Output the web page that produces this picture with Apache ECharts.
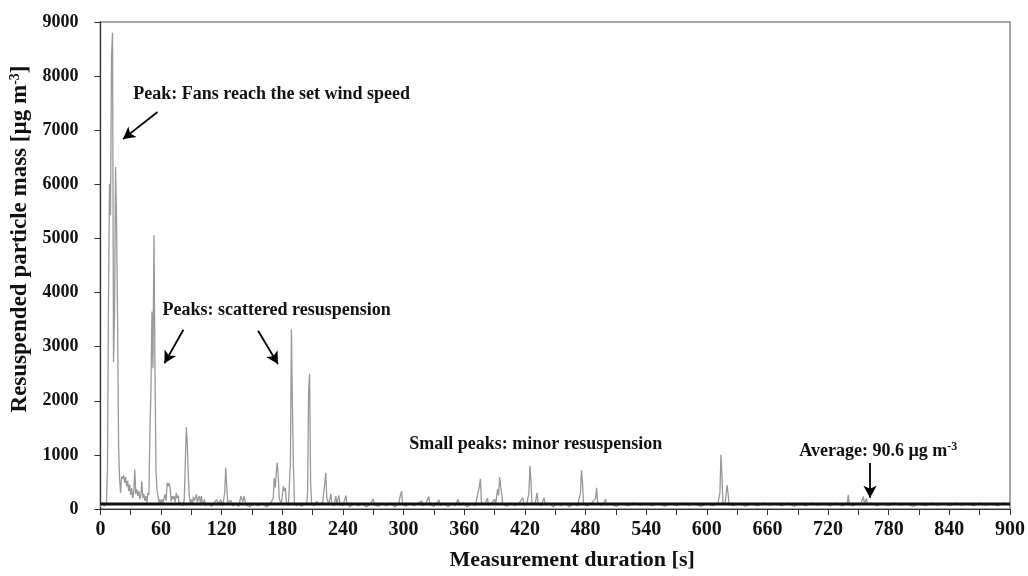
<!DOCTYPE html>
<html>
<head>
<meta charset="utf-8">
<script src="https://cdn.jsdelivr.net/npm/echarts@6/dist/echarts.min.js"></script>
<style>
  html, body { margin: 0; padding: 0; background: #fff; }
  #chart { width: 1028px; height: 576px; }
</style>
</head>
<body>
<div id="chart"></div>
<script>
// Resuspended particle mass over the measurement, [seconds, µg m-3]
const massReadings = [
  [0, 40], [1, 90], [2, 60], [3, 110], [4, 50], [5, 90], [6, 140], [7, 730], [8, 3850], [9, 6010],
  [10, 5430], [11, 8360], [12, 8800], [13, 2710], [14, 3600], [15, 6320], [16, 5280], [17, 3540], [18, 1160], [19, 550],
  [20, 300], [21, 600], [22, 560], [23, 620], [24, 480], [25, 590], [26, 420], [27, 520], [28, 330], [29, 450],
  [30, 260], [31, 380], [32, 200], [33, 310], [34, 730], [35, 280], [36, 370], [37, 240], [38, 330], [39, 180],
  [40, 260], [41, 510], [42, 200], [43, 280], [44, 150], [45, 240], [46, 120], [47, 300], [48, 260], [49, 1400],
  [50, 2200], [51, 3650], [52, 2600], [53, 5060], [54, 2600], [55, 700], [56, 360], [57, 240], [58, 120], [59, 180],
  [60, 90], [61, 180], [62, 120], [63, 200], [64, 270], [65, 150], [66, 480], [67, 420], [68, 480], [69, 390],
  [70, 140], [71, 240], [72, 180], [73, 240], [74, 120], [75, 300], [76, 200], [77, 250], [78, 90], [79, 130],
  [80, 70], [81, 110], [82, 60], [83, 200], [84, 850], [85, 1510], [86, 1215], [87, 600], [88, 240], [89, 110],
  [90, 180], [91, 80], [92, 230], [93, 150], [94, 200], [95, 270], [96, 120], [97, 200], [98, 240], [99, 100],
  [100, 240], [101, 80], [102, 120], [103, 180], [104, 60], [106, 110], [110, 50], [113, 130], [115, 170], [117, 90],
  [119, 170], [121, 60], [123, 300], [124, 760], [125, 420], [126, 120], [129, 160], [131, 60], [134, 100], [137, 50],
  [139, 240], [141, 130], [142, 240], [144, 80], [148, 40], [152, 100], [156, 60], [160, 110], [164, 40], [168, 90],
  [171, 200], [172, 570], [173, 400], [174, 670], [175, 860], [176, 600], [177, 200], [179, 80], [181, 420], [182, 330],
  [183, 390], [184, 120], [186, 60], [188, 850], [189, 3320], [190, 1890], [191, 790], [192, 120], [194, 60], [196, 110],
  [199, 50], [202, 100], [204, 70], [205, 300], [206, 2160], [207, 2500], [208, 480], [209, 110], [211, 60], [214, 140],
  [217, 70], [220, 130], [222, 480], [223, 670], [224, 200], [226, 90], [228, 280], [229, 110], [231, 60], [233, 240],
  [234, 90], [236, 250], [237, 100], [240, 60], [243, 250], [244, 90], [247, 40], [251, 110], [255, 60], [259, 100],
  [263, 40], [267, 90], [270, 190], [271, 80], [275, 50], [279, 100], [283, 60], [287, 110], [291, 40], [295, 90],
  [297, 270], [298, 330], [299, 90], [302, 50], [306, 110], [310, 60], [314, 100], [318, 150], [319, 60], [322, 100],
  [325, 230], [326, 80], [330, 50], [333, 110], [335, 170], [336, 60], [340, 100], [344, 40], [348, 100], [351, 60],
  [354, 180], [355, 70], [359, 110], [363, 40], [367, 100], [371, 60], [375, 420], [376, 560], [377, 120], [380, 80],
  [383, 200], [384, 70], [387, 110], [390, 180], [391, 80], [393, 370], [394, 250], [395, 590], [396, 420], [397, 300],
  [398, 100], [402, 50], [406, 110], [410, 60], [414, 100], [418, 210], [419, 70], [422, 100], [424, 300], [425, 800],
  [426, 550], [427, 100], [430, 80], [432, 300], [433, 100], [436, 60], [439, 210], [440, 80], [444, 110], [448, 40],
  [452, 100], [456, 60], [460, 110], [464, 40], [468, 100], [472, 60], [475, 300], [476, 715], [477, 500], [478, 90],
  [482, 60], [486, 110], [490, 200], [491, 390], [492, 120], [496, 60], [500, 180], [501, 70], [505, 100], [510, 50],
  [516, 100], [522, 60], [528, 110], [534, 70], [540, 100], [546, 60], [552, 110], [558, 50], [564, 100], [570, 60],
  [576, 110], [582, 70], [588, 100], [594, 50], [600, 100], [606, 60], [611, 100], [613, 300], [614, 1000], [615, 600],
  [616, 100], [618, 80], [619, 250], [620, 440], [621, 300], [622, 90], [626, 60], [632, 110], [638, 50], [644, 100],
  [650, 60], [656, 110], [662, 70], [668, 100], [674, 60], [680, 110], [686, 50], [692, 100], [698, 60], [704, 110],
  [710, 70], [716, 100], [722, 60], [728, 110], [734, 60], [739, 100], [740, 260], [741, 80], [745, 60], [749, 110],
  [752, 80], [755, 230], [756, 90], [758, 200], [759, 80], [763, 110], [768, 60], [774, 100], [780, 60], [786, 110],
  [792, 70], [798, 100], [804, 50], [810, 100], [816, 60], [822, 110], [828, 70], [834, 100], [840, 60], [846, 110],
  [852, 70], [858, 100], [864, 60], [870, 110], [876, 70], [882, 100], [888, 60], [894, 110], [900, 80]
];

const averageMass = 90.6;
const durationRange = [0, 900];
const durationStep = 30;      // minor tick spacing, labels every 60 s
const massRange = [0, 9000];
const massStep = 1000;

// Annotation texts anchored in data space: [seconds, mass]
const notes = [
  { at: [32.5, 7660], text: 'Peak: Fans reach the set wind speed' },
  { at: [61.4, 3666], text: 'Peaks: scattered resuspension' },
  { at: [305.5, 1186], text: 'Small peaks: minor resuspension' },
  { at: [691.5, 1063], text: 'Average: ' + averageMass + ' µg m{sup|-3}' }
];
// Arrows: [from, to] in data space
const arrows = [
  [[56.5, 7337], [22.4, 6836]],
  [[82.1, 3312], [63.4, 2694]],
  [[156.0, 3294], [175.7, 2681]],
  [[761.5, 849], [761.5, 207]]
];

const serif = '"Liberation Serif", "Times New Roman", serif';
const chart = echarts.init(document.getElementById('chart'), null, { renderer: 'canvas' });

chart.setOption({
  animation: false,
  backgroundColor: '#fff',
  grid: {
    left: 100, right: 14, top: 22, bottom: 63,
    show: true, borderColor: '#8a8a8a', borderWidth: 1.5
  },
  xAxis: {
    type: 'value',
    min: durationRange[0], max: durationRange[1], interval: durationStep,
    axisLine: { show: true, lineStyle: { color: '#333', width: 1.2 } },
    axisTick: { show: true, inside: false, length: 6, lineStyle: { color: '#333', width: 1 } },
    splitLine: { show: false },
    axisLabel: {
      margin: 11,
      fontFamily: serif, fontWeight: 'bold', fontSize: 20, color: '#111',
      formatter: v => (v % 60 === 0 ? String(v) : '')
    },
    name: 'Measurement duration [s]',
    nameLocation: 'middle',
    nameGap: 40,
    nameTextStyle: { fontFamily: serif, fontWeight: 'bold', fontSize: 22, color: '#111', padding: [0, 0, 0, 34] }
  },
  yAxis: {
    type: 'value',
    min: massRange[0], max: massRange[1], interval: massStep,
    axisLine: { show: true, lineStyle: { color: '#333', width: 1.2 } },
    axisTick: { show: true, inside: false, length: 6, lineStyle: { color: '#333', width: 1 } },
    splitLine: { show: false },
    axisLabel: {
      margin: 22, fontFamily: serif, fontWeight: 'bold', fontSize: 18, color: '#111',
      formatter: v => String(v)
    },
    name: 'Resuspended particle mass [µg m{sup|-3}]',
    nameLocation: 'middle',
    nameRotate: 90,
    nameGap: 57,
    nameTextStyle: {
      fontFamily: serif, fontWeight: 'bold', fontSize: 23, color: '#111',
      padding: [0, 0, 0, 53],
      rich: { sup: { fontFamily: serif, fontWeight: 'bold', fontSize: 14, color: '#111', verticalAlign: 'top', padding: [0, 0, 10, 0] } }
    }
  },
  series: [
    {
      name: 'mass',
      type: 'line',
      data: massReadings,
      showSymbol: false,
      symbol: 'none',
      lineStyle: { color: '#999', width: 1.3 },
      z: 2
    },
    {
      name: 'average',
      type: 'line',
      data: [[durationRange[0], averageMass], [durationRange[1], averageMass]],
      symbol: 'none',
      lineStyle: { color: '#111', width: 3 },
      z: 3,
      markLine: {
        silent: true,
        symbol: ['none', 'arrow'],
        symbolSize: [10, 12],
        label: { show: false },
        lineStyle: { color: '#000', width: 1.8, type: 'solid' },
        data: arrows.map(([a, b]) => [{ coord: a }, { coord: b }])
      }
    }
  ]
});

const supStyle = { fontFamily: serif, fontWeight: 'bold', fontSize: 12, color: '#111', verticalAlign: 'top', padding: [0, 0, 9, 0] };
chart.setOption({
  graphic: notes.map(n => {
    const p = chart.convertToPixel({ gridIndex: 0 }, n.at);
    return {
      type: 'text',
      x: p[0], y: p[1],
      z: 10,
      style: {
        text: n.text,
        fontFamily: serif, fontWeight: 'bold', fontSize: 18,
        fill: '#111',
        align: 'left', verticalAlign: 'middle',
        rich: { sup: supStyle }
      }
    };
  })
});
</script>
</body>
</html>
